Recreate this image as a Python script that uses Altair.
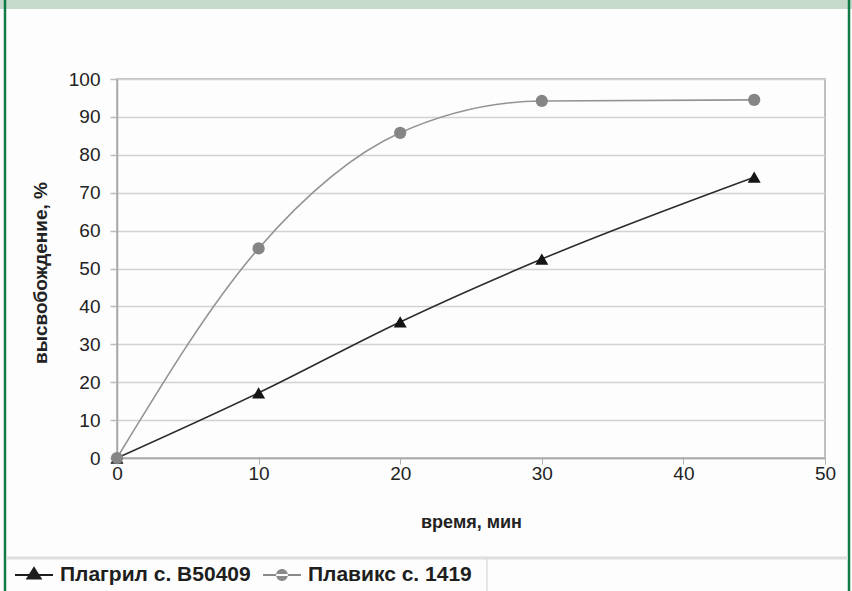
import altair as alt
import pandas as pd

# data
time_min = [0, 10, 20, 30, 45]
plagril = [0, 17.2, 35.9, 52.5, 74.1]
plavix = [0, 55.3, 85.8, 94.2, 94.5]
series_names = ["Плагрил с. B50409", "Плавикс с. 1419"]
x_ticks = [0, 10, 20, 30, 40, 50]
y_ticks = [0, 10, 20, 30, 40, 50, 60, 70, 80, 90, 100]

rows = []
for t, a, b in zip(time_min, plagril, plavix):
    rows.append({"t": t, "v": a, "s": series_names[0]})
    rows.append({"t": t, "v": b, "s": series_names[1]})
df = pd.DataFrame(rows)

W, H = 708, 379
LEFT, TOP = 117, 79
FONT = "Liberation Sans"

line_colors = ["#2b2b2b", "#939393"]
mark_colors = ["#151515", "#858585"]

x_enc = alt.X("t:Q", scale=alt.Scale(domain=[0, 50], nice=False),
              axis=alt.Axis(values=x_ticks, title="время, мин", grid=False,
                            labelOverlap=False, labelFlush=False,
                            tickSize=6, tickColor="#b0b0b0", tickWidth=1,
                            domainColor="#a8a8a8", domainWidth=1.5,
                            labelFont=FONT, labelFontSize=19,
                            labelColor="#222222", labelPadding=0,
                            titleFont=FONT, titleFontWeight="bold",
                            titleFontSize=18, titleColor="#222222", titlePadding=30))
y_enc = alt.Y("v:Q", scale=alt.Scale(domain=[0, 100], nice=False),
              axis=alt.Axis(values=y_ticks, title="высвобождение, %", grid=True,
                            labelOverlap=False, labelFlush=False,
                            gridColor="#d2d2d2", gridWidth=1.5,
                            tickSize=7, tickColor="#bdbdbd", tickWidth=1.5,
                            domainColor="#a8a8a8", domainWidth=1.5,
                            labelFont=FONT, labelFontSize=19,
                            labelColor="#222222", labelPadding=10,
                            titleFont=FONT, titleFontWeight="bold",
                            titleFontSize=19, titleColor="#222222",
                            titleX=-77, titleY=H / 2 + 4, titleAngle=-90,
                            titleAlign="center", titleBaseline="middle"))

color_scale = alt.Scale(domain=series_names, range=line_colors)

lines = alt.Chart(df).mark_line(interpolate="monotone", strokeWidth=1.6).encode(
    x=x_enc, y=y_enc,
    color=alt.Color("s:N", scale=color_scale, legend=None),
)

points = alt.Chart(df).mark_point(filled=True, opacity=1).encode(
    x=x_enc, y=y_enc,
    shape=alt.Shape("s:N", scale=alt.Scale(domain=series_names, range=["triangle-up", "circle"]), legend=None),
    fill=alt.Fill("s:N", scale=alt.Scale(domain=series_names, range=mark_colors), legend=None),
    size=alt.Size("s:N", scale=alt.Scale(domain=series_names, range=[170, 150]), legend=None),
)

tri_path = "M-1,-0.05L1,-0.05L1,0.05L-1,0.05Z M-0.44,0.24L0,-0.46L0.44,0.24Z"
circ_path = ("M-1,-0.05L1,-0.05L1,0.05L-1,0.05Z "
             "M-0.31,0A0.31,0.31 0 1,0 0.31,0A0.31,0.31 0 1,0 -0.31,0Z")

legend_layer = alt.Chart(df).mark_point(filled=True, opacity=0, size=1).encode(
    x=x_enc, y=y_enc,
    shape=alt.Shape("s:N", scale=alt.Scale(domain=series_names, range=[tri_path, circ_path]),
                    legend=alt.Legend(title=None, orient="none", direction="horizontal",
                                      legendX=15 - LEFT, legendY=556 - TOP, padding=0,
                                      symbolSize=1444, symbolOpacity=1,
                                      symbolFillColor="#222222", symbolStrokeWidth=0,
                                      labelFont=FONT, labelFontWeight="bold",
                                      labelFontSize=21, labelColor="#1e1e1e", labelLimit=400,
                                      labelOffset=7, columnPadding=12, symbolOffset=0)),
    fill=alt.Fill("s:N", scale=alt.Scale(domain=series_names, range=["#1e1e1e", "#8a8a8a"]), legend=None),
)

deco = pd.DataFrame({"k": [0]})
band = alt.Chart(deco).mark_rect(color="#c5dacb").encode(
    x=alt.value(-LEFT), x2=alt.value(852 - LEFT), y=alt.value(-TOP), y2=alt.value(9 - TOP))
green_l = alt.Chart(deco).mark_rule(color="#117a45", strokeWidth=2.5).encode(
    x=alt.value(5 - LEFT), y=alt.value(-TOP), y2=alt.value(591 - TOP))
green_r = alt.Chart(deco).mark_rule(color="#117a45", strokeWidth=2.5).encode(
    x=alt.value(849 - LEFT), y=alt.value(-TOP), y2=alt.value(591 - TOP))
leg_top = alt.Chart(deco).mark_rule(color="#dedede", strokeWidth=3).encode(
    x=alt.value(6 - LEFT), x2=alt.value(848 - LEFT), y=alt.value(558 - TOP))
leg_right = alt.Chart(deco).mark_rule(color="#dedede", strokeWidth=1.5).encode(
    x=alt.value(487 - LEFT), y=alt.value(558 - TOP), y2=alt.value(591 - TOP))

chart = alt.layer(band, green_l, green_r, leg_top, leg_right, lines, points, legend_layer).resolve_scale(
    shape="independent", fill="independent", color="independent", size="independent"
).properties(
    width=W, height=H,
    autosize=alt.AutoSizeParams(type="none"),
    padding={"left": LEFT, "top": TOP, "right": 852 - LEFT - W, "bottom": 591 - TOP - H},
    background="#fdfdfd",
).configure_view(stroke="#ababab", strokeWidth=1.5)

chart.save("out.html", embed_options={"renderer": "svg", "actions": False})
